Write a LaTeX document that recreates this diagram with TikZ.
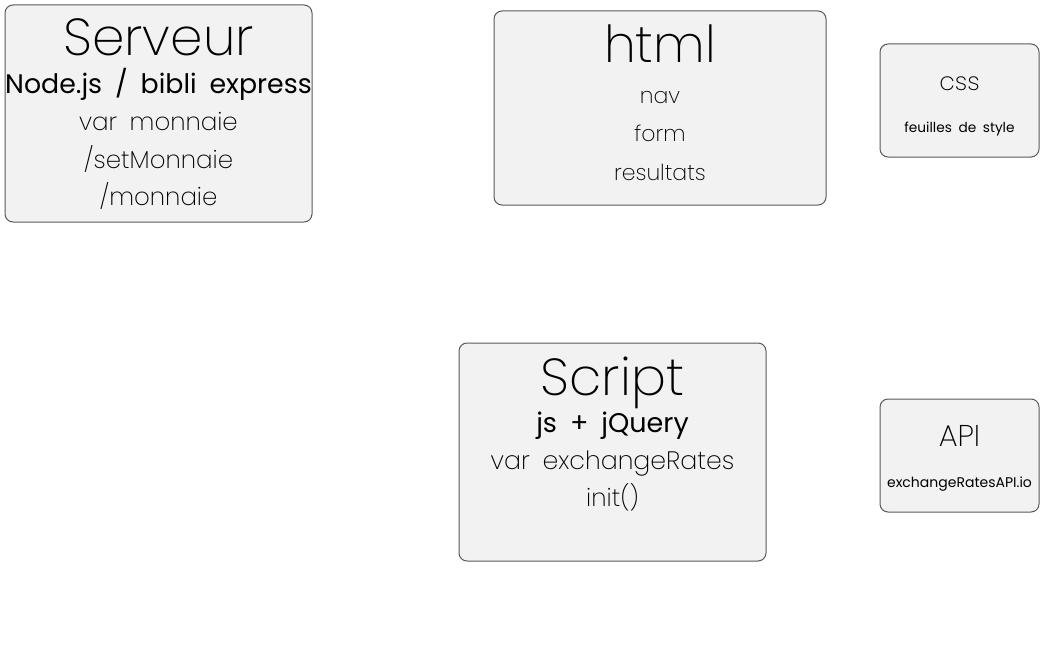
\documentclass[tikz,border=0pt]{standalone}
\usepackage{fontspec}
\setmainfont{Poppins ExtraLight}[WordSpace=1.8]
\newfontfamily\regfont{Poppins}[WordSpace=1.8]
\begin{document}
\begin{tikzpicture}[x=1pt,y=-1pt]
\tikzset{
  box/.style={draw=black!65, fill=black!5, line width=1pt, rounded corners=8pt, inner sep=0pt},
  txt/.style={anchor=base, inner sep=0pt, text=black},
}
\useasboundingbox (0,0) rectangle (1043,650);
% boxes
\node[box, minimum width=307pt, minimum height=217pt] (serveur) at (158.5,113.5) {};
\node[box, minimum width=332pt, minimum height=194pt] (html) at (660,108) {};
\node[box, minimum width=159pt, minimum height=113pt] (css) at (959.5,100.5) {};
\node[box, minimum width=307pt, minimum height=218pt] (script) at (612.5,452) {};
\node[box, minimum width=159pt, minimum height=113pt] (api) at (959.5,455.5) {};
% Serveur texts
\node[txt, font=\fontsize{52}{52}\selectfont] (t1) at (158.5,56) {Serveur};
\node[txt, font=\regfont\fontsize{26.8}{26.8}\selectfont] (t2) at (158.5,94) {Node.js / bibli express};
\node[txt, font=\fontsize{24.5}{24.5}\selectfont] (t3) at (158.5,131) {var monnaie};
\node[txt, font=\fontsize{24.5}{24.5}\selectfont] (t4) at (158.5,168) {/setMonnaie};
\node[txt, font=\fontsize{24.5}{24.5}\selectfont] (t5) at (158.5,205) {/monnaie};
% html texts
\node[txt, font=\fontsize{51}{51}\selectfont] (h1) at (660,63) {html};
\node[txt, font=\fontsize{22}{22}\selectfont] (h2) at (660,103) {nav};
\node[txt, font=\fontsize{22}{22}\selectfont] (h3) at (660,142) {form};
\node[txt, font=\fontsize{22}{22}\selectfont] (h4) at (660,180) {resultats};
% css texts
\node[txt, font=\fontsize{25}{25}\selectfont] (c1) at (959.5,91) {css};
\node[txt, font=\regfont\fontsize{13.7}{13.7}\selectfont] (c2) at (959.5,132) {feuilles de style};
% Script texts
\node[txt, font=\fontsize{52}{52}\selectfont] (s1) at (612.5,395) {Script};
\node[txt, font=\regfont\fontsize{27}{27}\selectfont] (s2) at (612.5,432) {js + jQuery};
\node[txt, font=\fontsize{25.2}{25.2}\selectfont] (s3) at (612.5,469) {var exchangeRates};
\node[txt, font=\fontsize{24.5}{24.5}\selectfont] (s4) at (612.5,506) {init()};
% API texts
\node[txt, font=\fontsize{30}{30}\selectfont] (a1) at (959.5,446) {API};
\node[txt, font=\regfont\fontsize{14}{14}\selectfont] (a2) at (959.5,487) {exchangeRatesAPI.io};
\end{tikzpicture}
\end{document}
